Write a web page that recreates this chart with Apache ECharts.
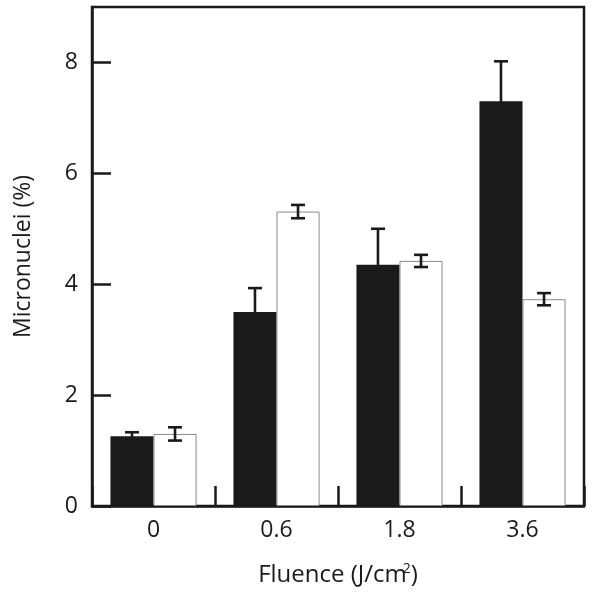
<!DOCTYPE html>
<html>
<head>
<meta charset="utf-8">
<script src="https://cdn.jsdelivr.net/npm/echarts@6/dist/echarts.min.js"></script>
<style>html,body{margin:0;padding:0;background:#fff;}#c{width:600px;height:601px;}</style>
</head>
<body>
<div id="c"></div>
<script>
const categories = ['0', '0.6', '1.8', '3.6'];
const blackValues = [1.26, 3.50, 4.35, 7.30];
const blackErrors = [0.07, 0.43, 0.65, 0.72];
const whiteValues = [1.30, 5.31, 4.42, 3.73];
const whiteErrors = [0.12, 0.12, 0.11, 0.11];
const yTicks = [0, 2, 4, 6, 8];

const FONT = '"Open Sans", sans-serif';
const INK = '#1a1a1a';
const BAR_RATIO = 0.35;

function errorSeries(values, errors, side) {
  return {
    type: 'custom',
    z: 10,
    data: values.map((v, i) => [i, v, errors[i]]),
    renderItem: function (params, api) {
      const i = api.value(0), v = api.value(1), e = api.value(2);
      const catW = api.size([1, 0])[0];
      const bw = catW * BAR_RATIO;
      const c = api.coord([i, v]);
      const x = c[0] + side * bw / 2;
      const top = api.coord([i, v + e])[1];
      const bot = api.coord([i, v - e])[1];
      const capHalf = 7;
      const style = { stroke: INK, lineWidth: 2.6, fill: null };
      return {
        type: 'group',
        children: [
          { type: 'line', shape: { x1: x, y1: top, x2: x, y2: bot }, style: style },
          { type: 'line', shape: { x1: x - capHalf, y1: top, x2: x + capHalf, y2: top }, style: style },
          { type: 'line', shape: { x1: x - capHalf, y1: bot, x2: x + capHalf, y2: bot }, style: style }
        ]
      };
    }
  };
}

const chart = echarts.init(document.getElementById('c'), null, { renderer: 'canvas' });
chart.setOption({
  animation: false,
  backgroundColor: '#fff',
  textStyle: { fontFamily: FONT },
  grid: {
    left: 92, right: 16, top: 7, bottom: 95,
    show: true, borderColor: INK, borderWidth: 2.5, backgroundColor: 'transparent'
  },
  xAxis: {
    type: 'category',
    data: categories,
    boundaryGap: true,
    name: 'Fluence (J/cm{sup|2})',
    nameLocation: 'middle',
    nameGap: 56,
    nameTextStyle: {
      fontFamily: FONT, fontSize: 24, color: INK,
      rich: { sup: { fontFamily: FONT, fontSize: 14, color: INK, verticalAlign: 'top', padding: [0, 0, 13, -4] } }
    },
    axisLine: { show: true, lineStyle: { color: INK, width: 2.5 } },
    axisTick: { show: true, inside: true, length: 20, lineStyle: { color: INK, width: 2.5 } },
    axisLabel: { fontFamily: FONT, fontSize: 23, color: INK, margin: 13 },
    splitLine: { show: false }
  },
  yAxis: {
    type: 'value',
    min: 0, max: 9, interval: 2,
    name: 'Micronuclei (%)',
    nameLocation: 'middle',
    nameGap: 57,
    nameRotate: 90,
    nameTextStyle: { fontFamily: FONT, fontSize: 23, color: INK },
    axisLine: { show: true, lineStyle: { color: INK, width: 2.5 } },
    axisTick: { show: true, inside: true, length: 19, customValues: yTicks, lineStyle: { color: INK, width: 2.5 } },
    axisLabel: { fontFamily: FONT, fontSize: 23, color: INK, margin: 14, customValues: yTicks },
    splitLine: { show: false }
  },
  series: [
    {
      type: 'bar', data: blackValues, barWidth: (BAR_RATIO * 100) + '%', barGap: '0%',
      itemStyle: { color: INK }
    },
    {
      type: 'bar', data: whiteValues, barWidth: (BAR_RATIO * 100) + '%', barGap: '0%',
      itemStyle: { color: '#ffffff', borderColor: '#8a8a8a', borderWidth: 1 }
    },
    errorSeries(blackValues, blackErrors, -1),
    errorSeries(whiteValues, whiteErrors, 1)
  ]
});
</script>
</body>
</html>
